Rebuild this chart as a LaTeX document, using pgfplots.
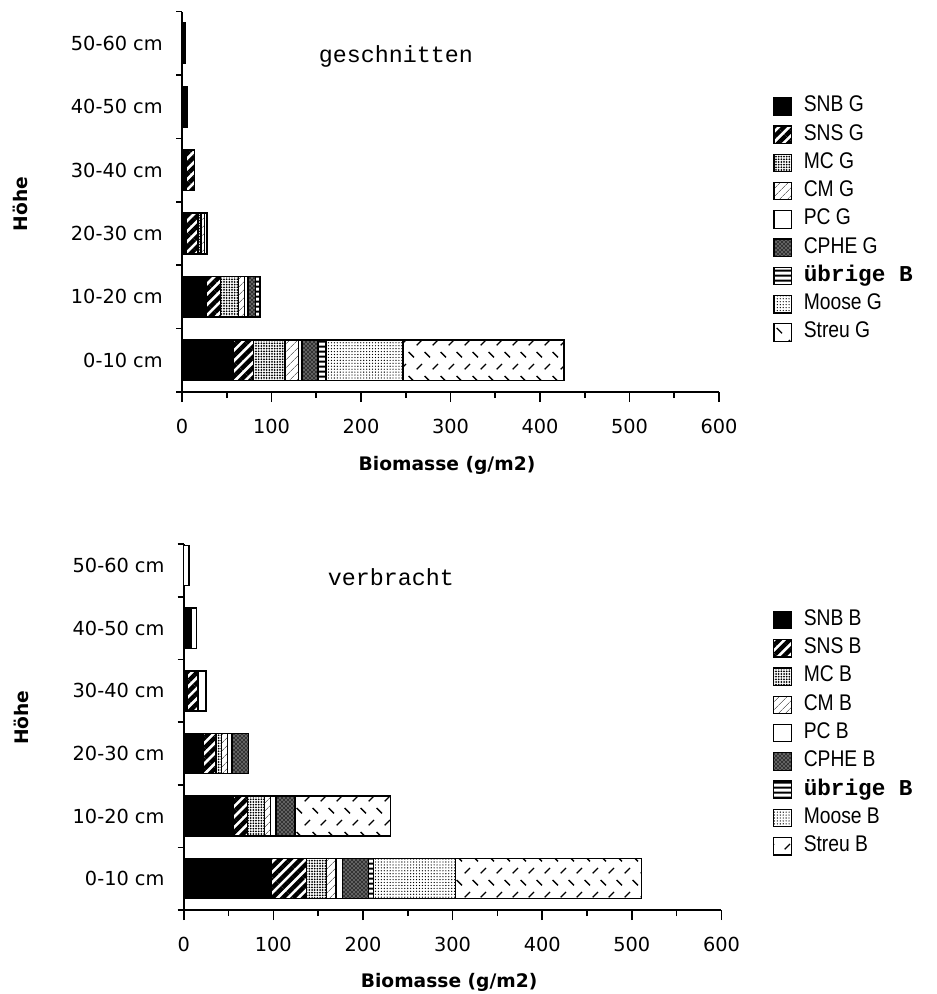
\documentclass[border=0pt]{standalone}
\usepackage{pgfplots}
\usepackage{pgfplotstable}
\pgfplotsset{compat=1.18}
\usetikzlibrary{patterns,patterns.meta}
\usepackage{fontspec}
\setmainfont{DejaVu Sans}
\newfontfamily\legfont{Liberation Sans}[FakeStretch=0.85]
\newfontfamily\cour{Liberation Mono}

\pgfdeclarepatternformonly{streu}{\pgfqpoint{-1pt}{-1pt}}{\pgfqpoint{13pt}{19pt}}{\pgfqpoint{12pt}{18pt}}{%
  \pgfsetlinewidth{1pt}%
  \pgfpathmoveto{\pgfqpoint{0.5pt}{0.5pt}}\pgfpathlineto{\pgfqpoint{4.5pt}{4.5pt}}%
  \pgfpathmoveto{\pgfqpoint{6.5pt}{13.5pt}}\pgfpathlineto{\pgfqpoint{10.5pt}{9.5pt}}%
  \pgfusepath{stroke}}

\tikzset{
  pSNB/.style={fill=black},
  pSNS/.style={pattern={Lines[angle=45,distance=5.5pt,line width=3.3pt]},pattern color=black},
  pMC/.style={pattern={Dots[distance=2pt,radius=0.75pt]},pattern color=black},
  pCM/.style={pattern={Lines[angle=45,distance=4pt,line width=0.6pt]},pattern color=black!55},
  pPC/.style={fill=white},
  pCPHE/.style={fill=black!80,postaction={pattern=crosshatch dots,pattern color=white}},
  pUEB/.style={pattern={Lines[angle=0,distance=4pt,line width=1.6pt]},pattern color=black},
  pMOOSE/.style={pattern={Dots[distance=2.2pt,radius=0.5pt]},pattern color=black},
  pSTREU/.style={pattern=streu,pattern color=black},
}

% y: 0 = 0-10 cm ... 5 = 50-60 cm
\pgfplotstableread{
y snb sns mc cm pc cphe ueb moose streu
0 57 23 35 15 4 18 9 86 180
1 27 16 20 7 4 8 5 0 0
2 5 13 3 4 3 0 0 0 0
3 5 9 0 0 0 0 0 0 0
4 6 0 0 0 0 0 0 0 0
5 4 0 0 0 0 0 0 0 0
}\tabG

\pgfplotstableread{
y snb sns mc cm pc cphe ueb moose streu
0 98 39 22 11 7 29 6 91 208
1 55 16 19 7 6 21 0 0 107
2 22 14 6 7 5 18 0 0 0
3 4 12 0 0 9 0 0 0 0
4 8 0 0 0 6 0 0 0 0
5 0 0 0 0 6 0 0 0 0
}\tabB

\pgfplotsset{
  bio/.style={
    xbar stacked, bar width=0.64,
    scale only axis, clip=false,
    xmin=0, xmax=600,
    axis x line*=bottom, axis y line*=left,
    axis line style={line width=1.4pt},
    tick align=outside,
    xtick={0,100,...,600}, minor xtick={50,150,...,550},
    major tick length=7.5pt, minor tick length=4.5pt,
    tick style={line width=1.2pt, black},
    every major y tick/.append style={draw=none},
    ytick={0,1,2,3,4,5},
    yticklabels={0-10 cm,10-20 cm,20-30 cm,30-40 cm,40-50 cm,50-60 cm},
    /pgf/number format/assume math mode=true,
    xticklabel style={font=\fontsize{14.5}{16}\selectfont, yshift=-9pt},
    yticklabel style={font=\fontsize{14.5}{16}\selectfont, inner sep=0pt, xshift=-6.75pt},
    xlabel={Biomasse (g/m2)}, ylabel={Höhe},
    label style={font=\bfseries\fontsize{14}{16}\selectfont},
    every axis plot/.append style={draw=black, line width=1.1pt},
    legend image code/.code={\draw[#1,draw=black,line width=0.9pt] (0pt,-6.5pt) rectangle (13pt,6.5pt);},
    legend cell align=left,
    legend style={draw=none, fill=none, inner sep=0pt, row sep=3.2pt,
      font=\legfont\fontsize{17}{18}\selectfont,
      nodes={inner sep=1pt, text height=12pt, text depth=4pt},
      /tikz/every odd column/.append style={column sep=8pt}},
  }
}

\begin{document}
\begin{tikzpicture}
\begin{axis}[bio,
  at={(136.5pt,-294pt)}, anchor=south west,
  width=402.75pt, height=285.3pt,
  ymin=-0.5, ymax=5.5,
  minor ytick={-0.5,0.5,1.5,2.5,3.5,4.5,5.5},
  xlabel style={at={(axis description cs:0.4935,-0.192)}, anchor=center},
  ylabel style={at={(axis description cs:-0.3017,0.494)}, anchor=center},
  legend style={at={(axis description cs:1.1006,0.783)}, anchor=north west},
]
\addplot[pSNB] table[x=snb,y=y]{\tabG};
\addplot[pSNS] table[x=sns,y=y]{\tabG};
\addplot[pMC] table[x=mc,y=y]{\tabG};
\addplot[pCM] table[x=cm,y=y]{\tabG};
\addplot[pPC] table[x=pc,y=y]{\tabG};
\addplot[pCPHE] table[x=cphe,y=y]{\tabG};
\addplot[pUEB] table[x=ueb,y=y]{\tabG};
\addplot[pMOOSE] table[x=moose,y=y]{\tabG};
\addplot[pSTREU] table[x=streu,y=y]{\tabG};
\legend{SNB G,SNS G,MC G,CM G,PC G,CPHE G,{\cour\bfseries übrige B},Moose G,Streu G}
\node[font=\cour\fontsize{17.5}{18}\selectfont, anchor=base] at (axis cs:239,4.69) {geschnitten};
\end{axis}

\begin{axis}[bio,
  at={(137.8pt,-682.5pt)}, anchor=south west,
  width=403.3pt, height=274.7pt,
  ymin=-0.5, ymax=5.35,
  minor ytick={-0.5,0.5,1.5,2.5,3.5,4.5,5.35},
  xlabel style={at={(axis description cs:0.4935,-0.198)}, anchor=center},
  ylabel style={at={(axis description cs:-0.3017,0.525)}, anchor=center},
  legend style={at={(axis description cs:1.0958,0.825)}, anchor=north west},
]
\addplot[pSNB] table[x=snb,y=y]{\tabB};
\addplot[pSNS] table[x=sns,y=y]{\tabB};
\addplot[pMC] table[x=mc,y=y]{\tabB};
\addplot[pCM] table[x=cm,y=y]{\tabB};
\addplot[pPC] table[x=pc,y=y]{\tabB};
\addplot[pCPHE] table[x=cphe,y=y]{\tabB};
\addplot[pUEB] table[x=ueb,y=y]{\tabB};
\addplot[pMOOSE] table[x=moose,y=y]{\tabB};
\addplot[pSTREU] table[x=streu,y=y]{\tabB};
\legend{SNB B,SNS B,MC B,CM B,PC B,CPHE B,{\cour\bfseries übrige B},Moose B,Streu B}
\node[font=\cour\fontsize{17.5}{18}\selectfont, anchor=base] at (axis cs:231,4.69) {verbracht};
\end{axis}
\pgfresetboundingbox
\useasboundingbox (0,0) rectangle (702pt,-745.5pt);
\end{tikzpicture}
\end{document}
